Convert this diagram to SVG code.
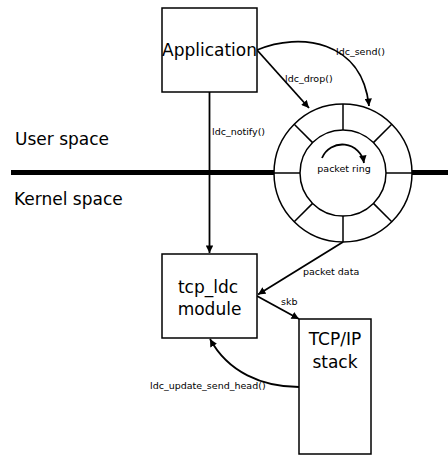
<svg xmlns="http://www.w3.org/2000/svg" width="448" height="455" viewBox="0 0 448 455">
  <style>
    .box { fill: #fff; stroke: #000; stroke-width: 1.5; }
    .line { fill: none; stroke: #000; stroke-width: 1.8; }
    .ring { fill: none; stroke: #000; stroke-width: 1.5; }
    .big { font-family: "DejaVu Sans", "Liberation Sans", sans-serif; font-size: 17px; fill: #000; }
    .small { font-family: "DejaVu Sans", "Liberation Sans", sans-serif; font-size: 9.5px; fill: #000; }
  </style>
  <defs>
    <marker id="arrow" viewBox="0 0 10 10" refX="10" refY="5" markerWidth="8" markerHeight="7.5" markerUnits="userSpaceOnUse" orient="auto">
      <path d="M0,0 L10,5 L0,10 z" fill="#000"/>
    </marker>
  </defs>
  <rect width="448" height="455" fill="#fff"/>

  <!-- user/kernel boundary -->
  <g id="boundary">
    <line x1="11" y1="172.5" x2="274" y2="172.5" stroke="#000" stroke-width="5"/>
    <line x1="412" y1="172.5" x2="448" y2="172.5" stroke="#000" stroke-width="5"/>
    <text class="big" x="15" y="145">User space</text>
    <text class="big" x="14" y="205">Kernel space</text>
  </g>

  <!-- connectors -->
  <g id="connectors">
    <line class="line" x1="209.5" y1="92" x2="209.5" y2="253" marker-end="url(#arrow)"/>
    <text class="small" x="212" y="135">ldc_notify()</text>

    <line class="line" x1="257" y1="50" x2="309" y2="108" marker-end="url(#arrow)"/>
    <text class="small" x="285" y="82">ldc_drop()</text>

    <path class="line" d="M257,50 C300,32 362,40 369,106" marker-end="url(#arrow)"/>
    <text class="small" x="336" y="55">ldc_send()</text>

    <line class="line" x1="343" y1="242" x2="258" y2="294.5" marker-end="url(#arrow)"/>
    <text class="small" x="303" y="275">packet data</text>

    <line class="line" x1="257" y1="296" x2="299" y2="319" marker-end="url(#arrow)"/>
    <text class="small" x="281" y="305">skb</text>

    <path class="line" d="M299,387 C262,387 228,372 210,339" marker-end="url(#arrow)"/>
    <text class="small" x="150" y="389">ldc_update_send_head()</text>
  </g>

  <!-- application -->
  <g id="application">
    <rect class="box" x="162" y="8" width="95" height="84"/>
    <text class="big" x="209.5" y="56" text-anchor="middle">Application</text>
  </g>

  <!-- packet ring -->
  <g id="packet-ring">
    <circle cx="343" cy="173" r="69" fill="#fff" stroke="#000" stroke-width="1.5"/>
    <circle class="ring" cx="343" cy="173" r="43"/>
    <g class="ring" stroke="#000" stroke-width="1.5">
      <line x1="343" y1="104" x2="343" y2="130"/>
      <line x1="343" y1="216" x2="343" y2="242"/>
      <line x1="274" y1="173" x2="300" y2="173"/>
      <line x1="386" y1="173" x2="412" y2="173"/>
      <line x1="294.2" y1="124.2" x2="312.6" y2="142.6"/>
      <line x1="391.8" y1="124.2" x2="373.4" y2="142.6"/>
      <line x1="294.2" y1="221.8" x2="312.6" y2="203.4"/>
      <line x1="391.8" y1="221.8" x2="373.4" y2="203.4"/>
    </g>
    <path class="line" d="M322,158 A22,22 0 0 1 364,163" stroke-width="1.3" marker-end="url(#arrow)"/>
    <text class="small" x="344" y="172" text-anchor="middle">packet ring</text>
  </g>

  <!-- tcp_ldc module -->
  <g id="tcp-ldc">
    <rect class="box" x="162" y="254" width="95" height="84"/>
    <text class="big" x="208" y="293" text-anchor="middle">tcp_ldc</text>
    <text class="big" x="209.5" y="315" text-anchor="middle">module</text>
  </g>

  <!-- TCP/IP stack -->
  <g id="tcp-ip">
    <rect class="box" x="299" y="319" width="72" height="135"/>
    <text class="big" x="335" y="345" text-anchor="middle">TCP/IP</text>
    <text class="big" x="335" y="368" text-anchor="middle">stack</text>
  </g>
</svg>
